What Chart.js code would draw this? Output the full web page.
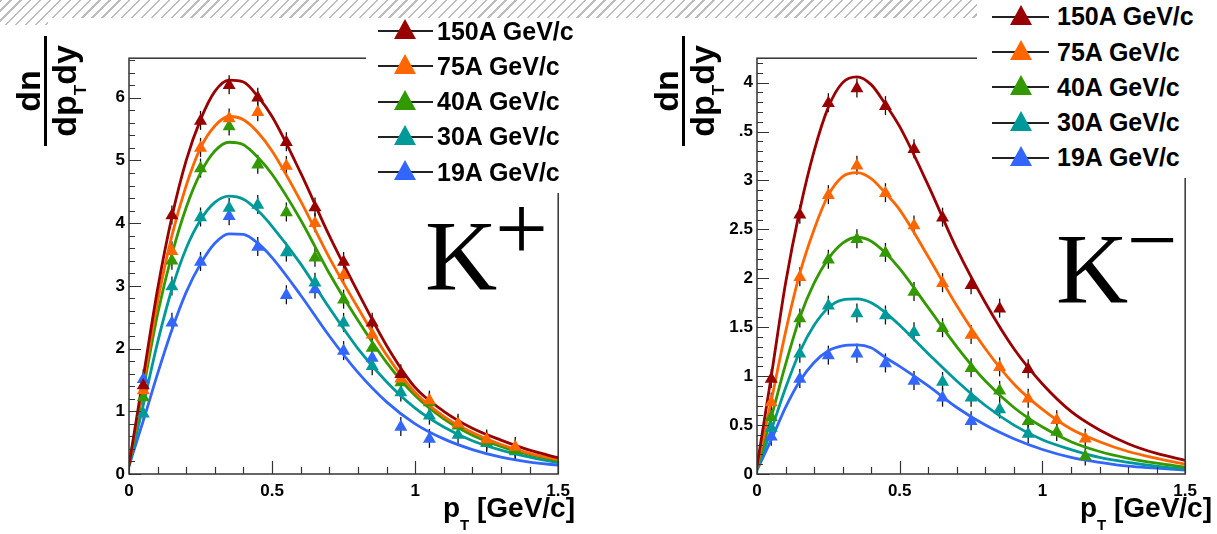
<!DOCTYPE html>
<html>
<head>
<meta charset="utf-8">
<script src="https://cdn.jsdelivr.net/npm/chart.js@4.4.1/dist/chart.umd.min.js"></script>
<style>
  body { margin: 0; background: #fff; width: 1217px; height: 534px; position: relative; overflow: hidden;
         font-family: 'Liberation Sans', Arial, sans-serif; }
  .abs { position: absolute; }
  .hatch { left: 0; top: 0; width: 1217px; height: 25px;
           background: repeating-linear-gradient(135deg, #bdbdbd 0 1.6px, #fff 1.6px 7px); }
  .cover { left: 48px; top: 18px; width: 1169px; height: 8px; background: #fff; }
  .legend { background: #fff; z-index: 5; }
  .legend .line { position: absolute; height: 2px; background: #222; }
  .legend .tri { position: absolute; width: 0; height: 0; border-left: 11px solid transparent;
                 border-right: 11px solid transparent; border-bottom-width: 20px; border-bottom-style: solid; }
  .legend .txt { position: absolute; font-weight: bold; font-size: 25px; line-height: 25px; white-space: nowrap; color: #000; }
  .ytitle { width: 110px; height: 84px; transform: rotate(-90deg); font-weight: bold; color: #000; }
  .ytitle span { position: absolute; white-space: nowrap; }
  .xtitle { font-weight: bold; font-size: 28px; line-height: 28px; white-space: nowrap; color: #000; }
  .kname { font-family: 'Liberation Serif', 'Times New Roman', serif; color: #000; white-space: nowrap; }
</style>
</head>
<body>
<div class="abs hatch"></div>
<div class="abs cover"></div>

<div class="abs" style="left:60px; top:44px;"><canvas id="kplus" width="517" height="460"></canvas></div>
<div class="abs" style="left:688px; top:44px;"><canvas id="kminus" width="516" height="460"></canvas></div>

<div class="abs legend" id="legPlus" style="left:366px; top:18px; width:240px; height:175px;"></div>
<div class="abs legend" id="legMinus" style="left:977px; top:0px; width:240px; height:178px;"></div>

<div class="abs ytitle" style="left:2px; top:49px;">
  <span style="top:-4.3px; left:0; width:110px; text-align:center; font-size:34px; line-height:34px;">dn</span>
  <span style="top:29px; left:0; width:110px; height:2.5px; background:#000;"></span>
  <span style="top:31.7px; left:0; width:110px; text-align:center; font-size:34px; line-height:34px;">dp<span style="position:relative; top:10px; font-size:17px;">T</span>dy</span>
</div>
<div class="abs ytitle" style="left:640px; top:49px;">
  <span style="top:-4.3px; left:0; width:110px; text-align:center; font-size:34px; line-height:34px;">dn</span>
  <span style="top:29px; left:0; width:110px; height:2.5px; background:#000;"></span>
  <span style="top:31.7px; left:0; width:110px; text-align:center; font-size:34px; line-height:34px;">dp<span style="position:relative; top:10px; font-size:17px;">T</span>dy</span>
</div>

<div class="abs xtitle" style="right:642px; top:494px;">p<span style="position:relative; top:13px; font-size:15px;">T</span> [GeV/c]</div>
<div class="abs xtitle" style="right:5px; top:494px;">p<span style="position:relative; top:13px; font-size:15px;">T</span> [GeV/c]</div>

<div class="abs kname" style="left:425px; top:206px; font-size:100px; line-height:100px;">K</div>
<div class="abs kname" style="left:495px; top:181px; font-size:94px; line-height:94px;">+</div>
<div class="abs kname" style="left:1056px; top:219px; font-size:100px; line-height:100px;">K</div>
<div class="abs kname" style="left:1127px; top:195px; font-size:90px; line-height:90px;">&#8722;</div>

<script>
const beamLabels = ["150A GeV/c", "75A GeV/c", "40A GeV/c", "30A GeV/c", "19A GeV/c"];
const beamColors = ["#990000", "#ff6600", "#339900", "#009999", "#3366ff"];

// measured pT bins (bin centres) and the x points where the fit curves were read
const ptBins = [0.05, 0.15, 0.25, 0.35, 0.45, 0.55, 0.65, 0.75, 0.85, 0.95, 1.05, 1.15, 1.25, 1.35];
const fitPt = [0, 0.05, 0.1, 0.15, 0.2, 0.25, 0.3, 0.35, 0.4, 0.45, 0.5, 0.6, 0.7, 0.8, 0.9, 1.0, 1.1, 1.2, 1.3, 1.4, 1.5];

const xTickLabels = ["0", "0.5", "1", "1.5"];
const kPlusYTickLabels = ["0", "1", "2", "3", "4", "5", "6"];
const kMinusYTickLabels = ["0", "0.5", "1", "1.5", "2", "2.5", "3", ".5", "4"];

// K+ data points
const kPlus150 = [1.41, 4.12, 5.63, 6.20, 6.00, 5.29, 4.25, 3.38, 2.41, 1.59, null, null, null, null];
const kPlus75 = [1.33, 3.55, 5.20, 5.67, 5.77, 4.91, 4.00, 3.17, 2.22, 1.52, 1.17, 0.80, 0.55, 0.43];
const kPlus40 = [1.22, 3.40, 4.87, 5.54, 4.93, 4.17, 3.45, 2.78, 2.01, 1.46, 1.14, 0.77, 0.52, 0.38];
const kPlus30 = [0.96, 2.99, 4.09, 4.24, 4.29, 3.53, 3.05, 2.41, 1.72, 1.30, 0.93, 0.62, 0.49, 0.36];
const kPlus19 = [1.51, 2.41, 3.38, 4.11, 3.62, 2.85, 2.94, 1.96, 1.85, 0.75, 0.56, null, null, null];

// K+ fit curves
const kPlusFit150 = [0.14, 1.55, 2.95, 4.10, 5.00, 5.65, 6.10, 6.28, 6.25, 6.02, 5.70, 4.80, 3.80, 2.90, 2.05, 1.38, 1.00, 0.73, 0.54, 0.38, 0.26];
const kPlusFit75 = [0.14, 1.45, 2.75, 3.80, 4.60, 5.20, 5.55, 5.70, 5.65, 5.45, 5.15, 4.35, 3.45, 2.65, 1.90, 1.30, 0.92, 0.66, 0.47, 0.33, 0.23];
const kPlusFit40 = [0.14, 1.35, 2.55, 3.50, 4.25, 4.80, 5.15, 5.29, 5.25, 5.05, 4.78, 4.05, 3.20, 2.45, 1.78, 1.25, 0.88, 0.62, 0.44, 0.31, 0.21];
const kPlusFit30 = [0.12, 1.10, 2.10, 2.95, 3.60, 4.05, 4.33, 4.43, 4.38, 4.20, 3.95, 3.35, 2.65, 2.00, 1.47, 1.05, 0.75, 0.53, 0.38, 0.27, 0.18];
const kPlusFit19 = [0.13, 0.85, 1.60, 2.30, 2.90, 3.35, 3.68, 3.83, 3.82, 3.68, 3.45, 2.85, 2.20, 1.62, 1.15, 0.80, 0.56, 0.39, 0.27, 0.19, 0.14];

// K- data points
const kMinus150 = [0.97, 2.65, 3.79, 3.94, 3.76, 3.32, 2.62, 1.93, 1.69, 1.07, null, null, null, null];
const kMinus75 = [0.73, 2.01, 2.85, 3.15, 2.87, 2.54, 1.95, 1.42, 1.09, 0.77, 0.55, 0.36, null, null];
const kMinus40 = [0.58, 1.59, 2.19, 2.40, 2.26, 1.86, 1.49, 1.08, 0.85, 0.54, 0.43, 0.18, null, null];
const kMinus30 = [0.47, 1.23, 1.72, 1.64, 1.62, 1.45, 0.94, 0.78, 0.66, 0.41, null, null, null, null];
const kMinus19 = [0.38, 0.97, 1.21, 1.23, 1.13, 0.95, 0.78, 0.54, null, null, null, null, null, null];

// K- fit curves
const kMinusFit150 = [0.08, 1.00, 1.95, 2.70, 3.30, 3.75, 4.00, 4.06, 3.98, 3.78, 3.55, 2.95, 2.30, 1.75, 1.28, 0.92, 0.64, 0.45, 0.31, 0.21, 0.14];
const kMinusFit75 = [0.07, 0.75, 1.45, 2.05, 2.50, 2.85, 3.04, 3.08, 3.02, 2.87, 2.70, 2.22, 1.72, 1.28, 0.92, 0.66, 0.46, 0.33, 0.23, 0.16, 0.10];
const kMinusFit40 = [0.06, 0.58, 1.12, 1.60, 1.95, 2.20, 2.36, 2.42, 2.38, 2.26, 2.10, 1.70, 1.30, 0.95, 0.68, 0.48, 0.33, 0.23, 0.16, 0.11, 0.07];
const kMinusFit30 = [0.05, 0.45, 0.88, 1.25, 1.52, 1.70, 1.78, 1.79, 1.75, 1.65, 1.52, 1.23, 0.95, 0.70, 0.50, 0.35, 0.25, 0.17, 0.12, 0.08, 0.05];
const kMinusFit19 = [0.04, 0.35, 0.68, 0.95, 1.14, 1.26, 1.31, 1.32, 1.29, 1.19, 1.10, 0.90, 0.68, 0.50, 0.36, 0.25, 0.17, 0.12, 0.08, 0.06, 0.04];

Chart.defaults.font.family = "'Liberation Sans', Arial, sans-serif";

const tickFont = { family: "'Liberation Sans', Arial, sans-serif", size: 17, weight: "bold" };

// ROOT-like frame: box, inward ticks, plus little error bar stubs under the markers
const rootFrame = (yMajor, yMinor) => ({
  id: "rootFrame",
  beforeDatasetsDraw(chart) {
    const ctx = chart.ctx;
    ctx.save();
    ctx.strokeStyle = "#111";
    ctx.lineWidth = 1.3;
    chart.data.datasets.forEach((ds, i) => {
      if (!ds.errBar) return;
      chart.getDatasetMeta(i).data.forEach((pt) => {
        ctx.beginPath();
        ctx.moveTo(pt.x, pt.y - 10);
        ctx.lineTo(pt.x, pt.y + 9);
        ctx.stroke();
      });
    });
    ctx.restore();
  },
  afterDraw(chart) {
    const { ctx, chartArea: a, scales } = chart;
    ctx.save();
    ctx.strokeStyle = "#333";
    ctx.lineWidth = 1.5;
    ctx.strokeRect(a.left, a.top, a.right - a.left, a.bottom - a.top);
    ctx.lineWidth = 1.2;
    ctx.beginPath();
    for (let k = 0; k * yMinor <= scales.y.max + 1e-9; k++) {
      const v = k * yMinor;
      const major = Math.abs(v / yMajor - Math.round(v / yMajor)) < 1e-6;
      const py = Math.round(scales.y.getPixelForValue(v)) + 0.5;
      ctx.moveTo(a.left, py);
      ctx.lineTo(a.left + (major ? 12 : 6), py);
    }
    for (let k = 0; k <= 15; k++) {
      const v = k * 0.1;
      const major = k % 5 === 0;
      const px = Math.round(scales.x.getPixelForValue(v)) + 0.5;
      ctx.moveTo(px, a.bottom);
      ctx.lineTo(px, a.bottom - (major ? 13 : 7));
    }
    ctx.stroke();
    ctx.restore();
  }
});

function buildDatasets(points, fits) {
  const sets = [];
  points.forEach((vals, i) => {
    sets.push({
      data: ptBins.map((x, j) => ({ x: x, y: vals[j] })).filter((p) => p.y !== null),
      showLine: false,
      pointStyle: "triangle",
      pointRadius: 7.5,
      pointHoverRadius: 7.5,
      backgroundColor: beamColors[i],
      borderColor: beamColors[i],
      borderWidth: 0,
      order: 0,
      errBar: true
    });
  });
  fits.forEach((vals, i) => {
    sets.push({
      data: fitPt.map((x, j) => ({ x: x, y: vals[j] })),
      showLine: true,
      pointRadius: 0,
      borderColor: beamColors[i],
      borderWidth: 2.8,
      cubicInterpolationMode: "monotone",
      order: 1
    });
  });
  return sets;
}

function makeChart(id, points, fits, yMax, yStep, yMinor, yLabels) {
  return new Chart(document.getElementById(id).getContext("2d"), {
    type: "scatter",
    data: { datasets: buildDatasets(points, fits) },
    options: {
      responsive: false,
      animation: false,
      devicePixelRatio: 1,
      layout: { padding: { left: 0, right: 15, top: 10, bottom: 0 } },
      plugins: { legend: { display: false }, tooltip: { enabled: false } },
      scales: {
        x: {
          type: "linear",
          min: 0,
          max: 1.5,
          grid: { display: false, drawTicks: false },
          border: { display: false },
          ticks: {
            stepSize: 0.5,
            maxRotation: 0,
            padding: 7,
            color: "#000",
            font: tickFont,
            callback: (v) => xTickLabels[Math.round(v / 0.5)]
          },
          afterFit: (s) => { s.height = 30; }
        },
        y: {
          type: "linear",
          min: 0,
          max: yMax,
          grid: { display: false, drawTicks: false },
          border: { display: false },
          ticks: {
            stepSize: yStep,
            includeBounds: false,
            padding: 4,
            color: "#000",
            font: tickFont,
            callback: (v) => yLabels[Math.round(v / yStep)]
          },
          afterFit: (s) => { s.width = 69; }
        }
      }
    },
    plugins: [rootFrame(yStep, yMinor)]
  });
}

makeChart("kplus",
  [kPlus150, kPlus75, kPlus40, kPlus30, kPlus19],
  [kPlusFit150, kPlusFit75, kPlusFit40, kPlusFit30, kPlusFit19],
  6.63, 1, 0.2, kPlusYTickLabels);

makeChart("kminus",
  [kMinus150, kMinus75, kMinus40, kMinus30, kMinus19],
  [kMinusFit150, kMinusFit75, kMinusFit40, kMinusFit30, kMinusFit19],
  4.25, 0.5, 0.1, kMinusYTickLabels);

// legends: row positions inside each white box
function buildLegend(boxId, firstRow, lineLeft, lineWidth, triCenter, textLeft) {
  const box = document.getElementById(boxId);
  beamLabels.forEach((label, i) => {
    const cy = firstRow + i * 35.3;
    const line = document.createElement("div");
    line.className = "line";
    line.style.left = lineLeft + "px";
    line.style.width = lineWidth + "px";
    line.style.top = (cy - 1) + "px";
    box.appendChild(line);
    const tri = document.createElement("div");
    tri.className = "tri";
    tri.style.left = (triCenter - 11) + "px";
    tri.style.top = (cy - 12) + "px";
    tri.style.borderBottomColor = beamColors[i];
    box.appendChild(tri);
    const txt = document.createElement("div");
    txt.className = "txt";
    txt.style.left = textLeft + "px";
    txt.style.top = (cy - 12.5) + "px";
    txt.textContent = label;
    box.appendChild(txt);
  });
}
buildLegend("legPlus", 13, 12, 55, 39, 71);
buildLegend("legMinus", 16.7, 15, 57, 44, 80);
</script>
</body>
</html>
